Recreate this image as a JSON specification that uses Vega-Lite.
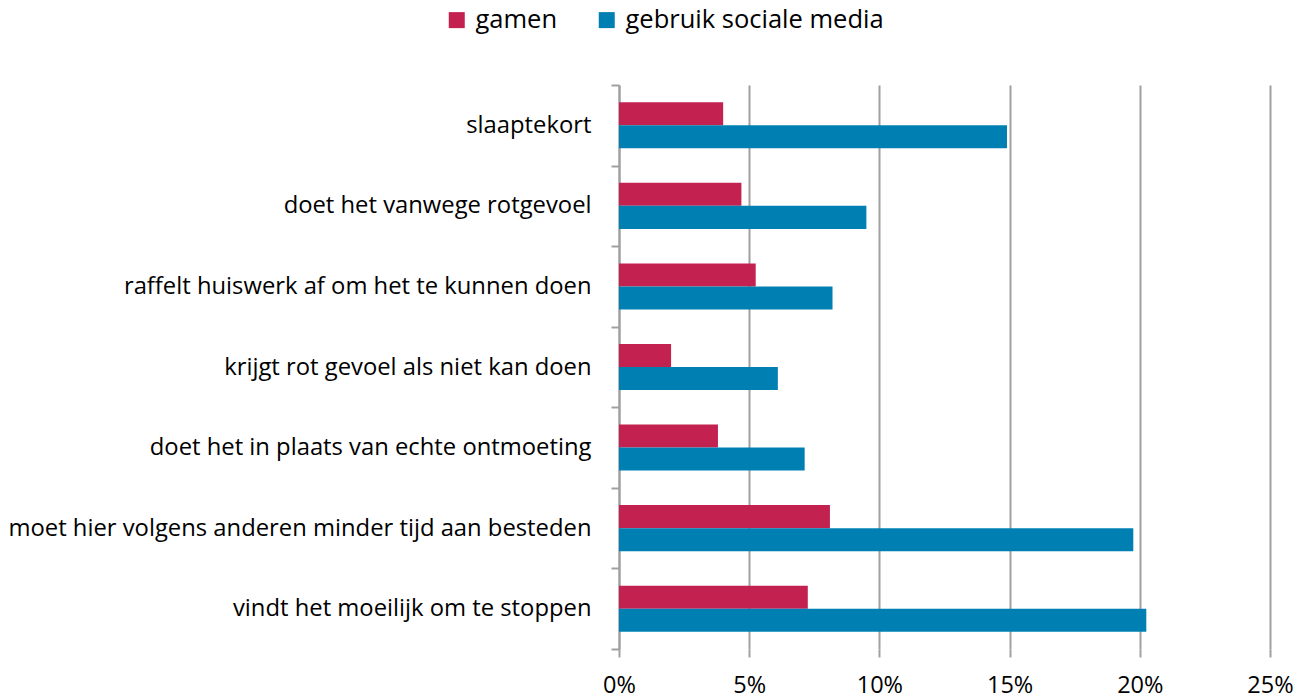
{
  "$schema": "https://vega.github.io/schema/vega-lite/v6.json",
  "width": 651,
  "height": 564,
  "autosize": {"type": "none"},
  "padding": {"left": 619, "top": 85, "right": 36, "bottom": 49},
  "background": "white",
  "config": {
    "view": {"stroke": null},
    "font": "Open Sans"
  },
  "data": {
    "values": [
      {"item": "slaaptekort", "serie": "gamen", "value": 0.040},
      {"item": "slaaptekort", "serie": "gebruik sociale media", "value": 0.149},
      {"item": "doet het vanwege rotgevoel", "serie": "gamen", "value": 0.047},
      {"item": "doet het vanwege rotgevoel", "serie": "gebruik sociale media", "value": 0.095},
      {"item": "raffelt huiswerk af om het te kunnen doen", "serie": "gamen", "value": 0.0525},
      {"item": "raffelt huiswerk af om het te kunnen doen", "serie": "gebruik sociale media", "value": 0.082},
      {"item": "krijgt rot gevoel als niet kan doen", "serie": "gamen", "value": 0.020},
      {"item": "krijgt rot gevoel als niet kan doen", "serie": "gebruik sociale media", "value": 0.061},
      {"item": "doet het in plaats van echte ontmoeting", "serie": "gamen", "value": 0.038},
      {"item": "doet het in plaats van echte ontmoeting", "serie": "gebruik sociale media", "value": 0.0713},
      {"item": "moet hier volgens anderen minder tijd aan besteden", "serie": "gamen", "value": 0.081},
      {"item": "moet hier volgens anderen minder tijd aan besteden", "serie": "gebruik sociale media", "value": 0.1975},
      {"item": "vindt het moeilijk om te stoppen", "serie": "gamen", "value": 0.0725},
      {"item": "vindt het moeilijk om te stoppen", "serie": "gebruik sociale media", "value": 0.2025}
    ]
  },
  "mark": {"type": "bar"},
  "encoding": {
    "y": {
      "field": "item",
      "type": "nominal",
      "sort": null,
      "scale": {"paddingInner": 0, "paddingOuter": 0},
      "axis": {
        "title": null,
        "tickBand": "extent",
        "grid": false,
        "domainColor": "#a0a0a0",
        "domainWidth": 2,
        "tickColor": "#a0a0a0",
        "tickWidth": 2,
        "tickSize": 8,
        "labelFontSize": 23.8,
        "labelColor": "#000000",
        "labelPadding": 20,
        "labelLimit": 700
      }
    },
    "yOffset": {"field": "serie", "type": "nominal", "sort": ["gamen", "gebruik sociale media"], "scale": {"paddingInner": 0, "paddingOuter": 0.75}},
    "x": {
      "field": "value",
      "type": "quantitative",
      "scale": {"domain": [0, 0.25], "nice": false},
      "axis": {
        "title": null,
        "values": [0, 0.05, 0.1, 0.15, 0.2, 0.25],
        "format": ".0%",
        "domain": false,
        "labelFlush": false,
        "grid": true,
        "gridColor": "#a0a0a0",
        "gridWidth": 2,
        "tickColor": "#a0a0a0",
        "tickWidth": 2,
        "tickSize": 8,
        "labelFontSize": 23.5,
        "labelColor": "#000000",
        "labelPadding": 16
      }
    },
    "color": {
      "field": "serie",
      "type": "nominal",
      "sort": ["gamen", "gebruik sociale media"],
      "scale": {"domain": ["gamen", "gebruik sociale media"], "range": ["#c32150", "#0080b2"]},
      "legend": {
        "title": null,
        "orient": "none",
        "direction": "horizontal",
        "legendX": -175,
        "legendY": -78,
        "symbolType": "square",
        "symbolSize": 256,
        "symbolStrokeWidth": 0,
        "labelFontSize": 25.5,
        "labelColor": "#000000",
        "labelOffset": 6,
        "columnPadding": 36,
        "labelLimit": 400
      }
    }
  }
}
